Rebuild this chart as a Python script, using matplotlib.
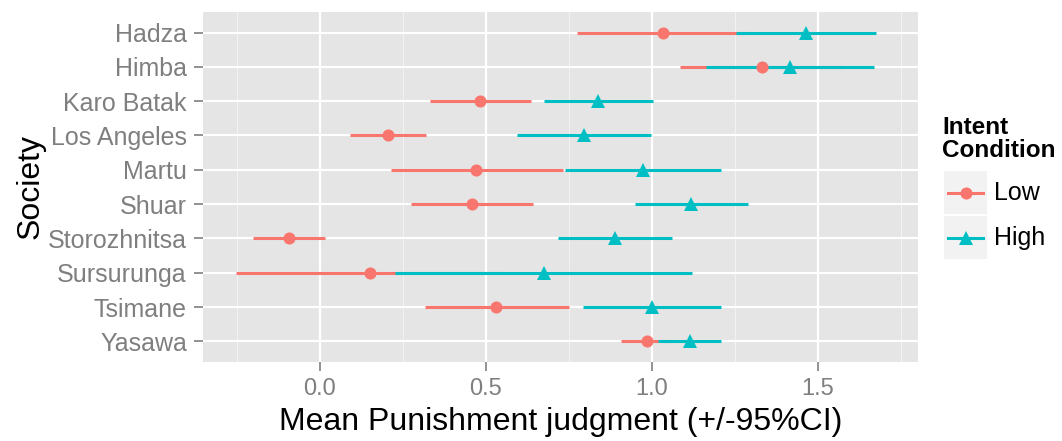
import matplotlib.pyplot as plt
from matplotlib.lines import Line2D

societies = ["Hadza", "Himba", "Karo Batak", "Los Angeles", "Martu", "Shuar",
             "Storozhnitsa", "Sursurunga", "Tsimane", "Yasawa"]

low_mean = [1.033, 1.331, 0.482, 0.206, 0.471, 0.458, -0.092, 0.150, 0.532, 0.985]
low_lo = [0.776, 1.085, 0.332, 0.090, 0.214, 0.275, -0.200, -0.253, 0.317, 0.906]
low_hi = [1.290, 1.577, 0.637, 0.321, 0.732, 0.642, 0.017, 0.553, 0.749, 1.064]

high_mean = [1.464, 1.415, 0.839, 0.796, 0.972, 1.118, 0.890, 0.676, 1.000, 1.115]
high_lo = [1.254, 1.164, 0.674, 0.593, 0.739, 0.949, 0.717, 0.226, 0.793, 1.018]
high_hi = [1.675, 1.668, 1.003, 0.997, 1.207, 1.288, 1.061, 1.122, 1.207, 1.207]

RED = "#F8766D"
TEAL = "#00BFC4"
plt.rcParams["font.family"] = ["Liberation Sans", "DejaVu Sans"]

fig = plt.figure(figsize=(10.62, 4.41), dpi=100)
ax = fig.add_axes([0.191, 0.179, 0.673, 0.794])
ax.set_facecolor("#E5E5E5")

n = len(societies)
ypos = [n - i for i in range(n)]

# lines first (Low then High), then points on top
ax.hlines(ypos, low_lo, low_hi, color=RED, lw=2.2, zorder=3)
ax.hlines(ypos, high_lo, high_hi, color=TEAL, lw=2.2, zorder=3)
ax.plot(low_mean, ypos, "o", color=RED, ms=8.7, mew=0, zorder=4)
ax.plot(high_mean, ypos, "^", color=TEAL, ms=10.5, mew=0, zorder=4)

ax.set_xlim(-0.352, 1.80)
ax.set_ylim(0.4, n + 0.6)
ax.set_xticks([0.0, 0.5, 1.0, 1.5])
ax.set_xticklabels(["0.0", "0.5", "1.0", "1.5"])
ax.set_xticks([-0.25, 0.25, 0.75, 1.25, 1.75], minor=True)
ax.set_yticks(ypos)
ax.set_yticklabels(societies)

ax.grid(which="major", color="white", lw=1.6, zorder=0)
ax.grid(which="minor", axis="x", color="#F2F2F2", lw=0.8, zorder=0)
ax.set_axisbelow(True)
for s in ax.spines.values():
    s.set_visible(False)
ax.tick_params(which="major", colors="#7F7F7F", length=6.5, width=1.2, pad=5)
ax.tick_params(axis="y", labelsize=18)
ax.tick_params(axis="x", labelsize=17)
ax.tick_params(which="minor", length=0)
for lab in ax.get_xticklabels() + ax.get_yticklabels():
    lab.set_color("#7F7F7F")

ax.set_xlabel("Mean Punishment judgment (+/-95%CI)", fontsize=23, labelpad=5)
ax.set_ylabel("Society", fontsize=23, labelpad=2)

# legend drawn by hand to get ggplot-style grey keys
fig.text(0.887, 1 - 139 / 441, "Intent\nCondition", fontsize=17.5, fontweight="bold",
         ha="left", va="center", linespacing=1.0)
labels = ["Low", "High"]
colors = [RED, TEAL]
markers = ["o", "^"]
msizes = [8.7, 10.5]
for i in range(2):
    kb = 1 - (214 + 45 * i) / 441
    kax = fig.add_axes([944 / 1062, kb, 43 / 1062, 43 / 441])
    kax.set_facecolor("#F2F2F2")
    kax.set_xlim(0, 1)
    kax.set_ylim(0, 1)
    kax.set_xticks([])
    kax.set_yticks([])
    for s in kax.spines.values():
        s.set_visible(False)
    kax.add_line(Line2D([0.1, 0.9], [0.5, 0.5], color=colors[i], lw=2.2))
    kax.plot([0.5], [0.5], markers[i], color=colors[i], ms=msizes[i], mew=0)
    fig.text(994 / 1062, kb + 21.5 / 441, labels[i], fontsize=18, ha="left", va="center")

fig.savefig("out.png", dpi=100)
